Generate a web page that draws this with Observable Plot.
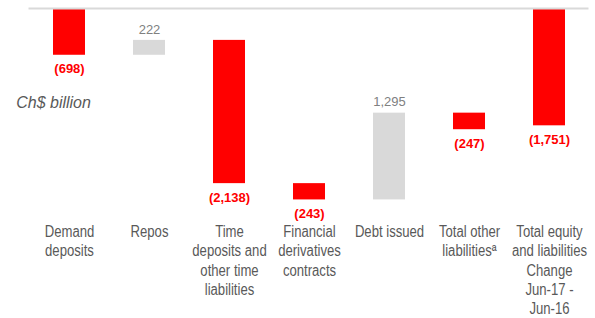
<!DOCTYPE html>
<html>
<head>
<meta charset="utf-8">
<script src="https://cdn.jsdelivr.net/npm/d3@7"></script>
<script src="https://cdn.jsdelivr.net/npm/@observablehq/plot@0.6"></script>
<style>
  html, body { margin: 0; padding: 0; background: #fff; }
  #chart { width: 595px; height: 318px; }
</style>
</head>
<body>
<div id="chart"></div>
<script>
const categories = [
  "Demand\ndeposits",
  "Repos",
  "Time\ndeposits and\nother time\nliabilities",
  "Financial\nderivatives\ncontracts",
  "Debt issued",
  "Total other\nliabilitiesª",
  "Total equity\nand liabilities\nChange\nJun-17 -\nJun-16"
];
const values = [-698, 222, -2138, -243, 1295, -247, -1751];
const valueLabels = ["(698)", "222", "(2,138)", "(243)", "1,295", "(247)", "(1,751)"];
const isTotal = [false, false, false, false, false, false, true];
const unitLabel = "Ch$ billion";

// Build waterfall table
let run = 0;
const rows = categories.map((c, i) => {
  let y1, y2;
  if (isTotal[i]) { y1 = 0; y2 = values[i]; }
  else { y1 = run; y2 = run + values[i]; run = y2; }
  return {cat: c, v: values[i], y1, y2, label: valueLabels[i],
          lo: Math.min(y1, y2), hi: Math.max(y1, y2), neg: values[i] < 0, total: isTotal[i]};
});

const font = "'Liberation Sans', Arial, sans-serif";

const chart = Plot.plot({
  width: 595,
  height: 318,
  marginTop: 8,
  marginBottom: 109,
  marginLeft: 28.5,
  marginRight: 6.5,
  style: {fontFamily: font, background: "#fff"},
  x: {domain: categories, paddingInner: 0.6, paddingOuter: 0.3, label: null},
  y: {domain: [-3000, 0], axis: null},
  marks: [
    Plot.barY(rows, {x: "cat", y1: "y1", y2: "y2", fill: d => d.neg ? "#ff0000" : "#d9d9d9"}),
    Plot.ruleY([0], {stroke: "#d9d9d9", strokeWidth: 2}),
    Plot.text(rows.filter(d => d.neg), {x: "cat", y: "lo", text: "label", dy: 14,
      fill: "#ff0000", fontSize: 13, fontWeight: "bold", ariaLabel: "narrow-neg"}),
    Plot.text(rows.filter(d => !d.neg), {x: "cat", y: "hi", text: "label", dy: -11,
      fill: "#808080", fontSize: 13, ariaLabel: "narrow-pos"}),
    Plot.axisX({tickSize: 0, tickPadding: 14, fontSize: 16, lineHeight: 1.2,
      fill: "#595959", label: null}),
    Plot.text([unitLabel], {frameAnchor: "top-left", dx: -12.8, dy: 88, text: d => d,
      textAnchor: "start", fontSize: 16, fontStyle: "italic", fill: "#595959"})
  ]
});
document.getElementById("chart").appendChild(chart);

// Emulate a narrow typeface by horizontally condensing these labels about their anchor
const k = 0.82;
const sel = 'g[aria-label="x-axis tick label"] text, g[aria-label="narrow-neg"] text, g[aria-label="narrow-pos"] text';
chart.querySelectorAll(sel).forEach(t => {
  const x = parseFloat(t.getAttribute("x")) || 0;
  const tr = t.getAttribute("transform") || "";
  t.setAttribute("transform", `${tr} translate(${x * (1 - k)},0) scale(${k},1)`);
});
</script>
</body>
</html>
